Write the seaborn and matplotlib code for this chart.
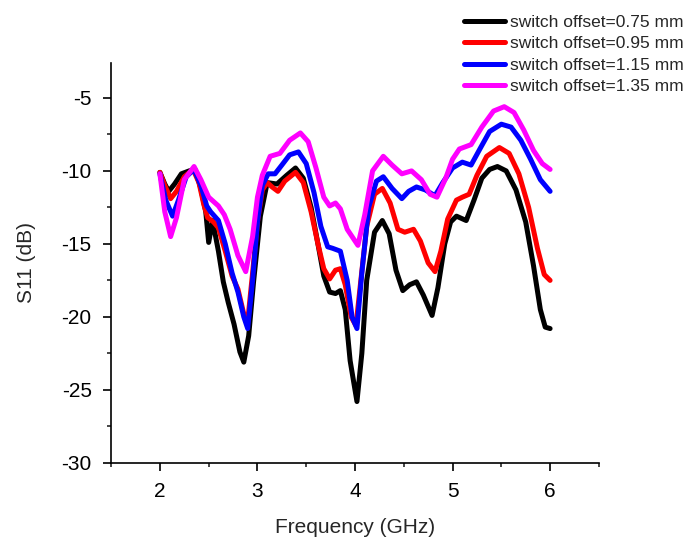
import pandas as pd
import seaborn as sns
import matplotlib.pyplot as plt
from matplotlib.ticker import MultipleLocator

# values (frequency in GHz, S11 in dB)
freq_075 = [2.00, 2.05, 2.09, 2.15, 2.22, 2.30, 2.36, 2.42, 2.47, 2.50, 2.54, 2.60, 2.65, 2.70,
            2.76, 2.82, 2.86, 2.91, 2.96, 3.03, 3.10, 3.20, 3.30, 3.39, 3.47, 3.55, 3.62, 3.68,
            3.74, 3.80, 3.85, 3.90, 3.95, 4.02, 4.07, 4.12, 4.20, 4.28, 4.35, 4.42, 4.49, 4.56,
            4.63, 4.70, 4.79, 4.85, 4.92, 4.98, 5.04, 5.14, 5.22, 5.30, 5.38, 5.46, 5.55, 5.65,
            5.75, 5.83, 5.90, 5.95, 6.00]
s11_075 = [-10.1, -10.9, -11.4, -10.9, -10.2, -10.0, -9.9, -11.2, -12.8, -14.9, -13.4, -15.5, -17.6, -19.0,
           -20.5, -22.4, -23.1, -21.3, -17.6, -13.1, -10.8, -10.9, -10.3, -9.8, -10.5, -12.5, -15.0, -17.2,
           -18.3, -18.4, -18.2, -19.5, -23.0, -25.8, -22.5, -17.5, -14.2, -13.4, -14.3, -16.8, -18.2, -17.8,
           -17.6, -18.5, -19.9, -18.0, -15.0, -13.5, -13.1, -13.4, -12.0, -10.5, -9.9, -9.7, -10.0, -11.3,
           -13.5, -16.5, -19.5, -20.7, -20.8]

freq_095 = [2.00, 2.05, 2.11, 2.17, 2.25, 2.34, 2.40, 2.45, 2.49, 2.55, 2.60, 2.67, 2.74, 2.80,
            2.86, 2.90, 2.95, 3.00, 3.05, 3.10, 3.15, 3.21, 3.28, 3.39, 3.47, 3.55, 3.62, 3.68,
            3.74, 3.80, 3.85, 3.90, 3.96, 4.01, 4.06, 4.12, 4.20, 4.28, 4.36, 4.44, 4.51, 4.60,
            4.67, 4.75, 4.82, 4.88, 4.95, 5.04, 5.10, 5.17, 5.25, 5.35, 5.48, 5.58, 5.68, 5.78,
            5.87, 5.94, 6.00]
s11_095 = [-10.1, -11.0, -11.9, -11.4, -10.4, -9.9, -10.8, -12.3, -13.2, -13.5, -13.9, -15.5, -17.2, -18.1,
           -19.8, -20.3, -17.0, -13.5, -11.3, -10.8, -11.1, -11.4, -10.7, -10.1, -10.8, -12.8, -15.0, -16.7,
           -17.4, -16.8, -16.7, -17.8, -20.0, -20.6, -17.5, -13.8, -11.6, -11.2, -12.2, -14.0, -14.2, -14.0,
           -14.8, -16.3, -16.9, -15.5, -13.3, -12.0, -11.8, -11.6, -10.3, -9.0, -8.4, -8.8, -10.2, -12.5,
           -15.3, -17.1, -17.5]

freq_115 = [2.00, 2.06, 2.13, 2.19, 2.27, 2.35, 2.42, 2.48, 2.52, 2.60, 2.67, 2.74, 2.80, 2.86,
            2.90, 2.95, 3.00, 3.05, 3.11, 3.18, 3.25, 3.33, 3.42, 3.50, 3.58, 3.65, 3.72, 3.77,
            3.85, 3.92, 3.97, 4.02, 4.07, 4.14, 4.22, 4.29, 4.38, 4.48, 4.55, 4.63, 4.72, 4.82,
            4.90, 5.00, 5.10, 5.19, 5.28, 5.38, 5.50, 5.60, 5.70, 5.80, 5.90, 6.00]
s11_115 = [-10.2, -12.0, -13.1, -12.0, -10.4, -9.9, -11.0, -12.4, -12.8, -13.4, -15.0, -17.0, -18.3, -20.0,
           -20.8, -17.5, -13.5, -11.0, -10.2, -10.2, -9.6, -8.9, -8.7, -9.5, -11.5, -13.8, -15.2, -15.3,
           -15.5, -17.5, -20.0, -20.8, -17.0, -12.5, -10.7, -10.4, -11.2, -11.9, -11.4, -11.1, -11.3, -11.7,
           -10.8, -9.8, -9.4, -9.6, -8.5, -7.3, -6.8, -7.0, -7.9, -9.2, -10.6, -11.4]

freq_135 = [2.00, 2.05, 2.11, 2.17, 2.25, 2.35, 2.42, 2.50, 2.60, 2.66, 2.72, 2.80, 2.88, 2.95,
            3.00, 3.05, 3.13, 3.23, 3.33, 3.44, 3.52, 3.60, 3.68, 3.74, 3.80, 3.85, 3.92, 4.03,
            4.10, 4.18, 4.29, 4.38, 4.48, 4.58, 4.68, 4.77, 4.84, 4.93, 5.00, 5.07, 5.19, 5.30,
            5.42, 5.53, 5.63, 5.73, 5.83, 5.92, 6.00]
s11_135 = [-10.2, -12.8, -14.5, -13.2, -10.6, -9.7, -10.6, -11.8, -12.4, -13.0, -14.0, -15.8, -16.9, -14.5,
           -11.8, -10.3, -9.0, -8.8, -7.9, -7.4, -8.0, -9.8, -11.8, -12.4, -12.2, -12.6, -14.0, -15.1,
           -13.0, -10.0, -9.0, -9.6, -10.2, -10.0, -10.6, -11.6, -11.8, -10.5, -9.2, -8.5, -8.2, -7.0,
           -5.9, -5.6, -6.0, -7.2, -8.6, -9.5, -9.9]

labels = ["switch offset=0.75 mm", "switch offset=0.95 mm",
          "switch offset=1.15 mm", "switch offset=1.35 mm"]
colors = ["black", "red", "blue", "magenta"]

frames = []
for f, s, lab in zip([freq_075, freq_095, freq_115, freq_135],
                     [s11_075, s11_095, s11_115, s11_135], labels):
    frames.append(pd.DataFrame({"freq": f, "s11": s, "series": lab}))
df = pd.concat(frames, ignore_index=True)

sns.set_theme(style="ticks")
plt.rcParams["font.family"] = ["Liberation Sans", "DejaVu Sans"]
plt.rcParams["axes.unicode_minus"] = False
plt.rcParams["lines.solid_joinstyle"] = "round"
plt.rcParams["lines.solid_capstyle"] = "round"

fig = plt.figure(figsize=(6.86, 5.42), dpi=100)
ax = fig.add_axes([0.162, 0.146, 0.711, 0.738])

sns.lineplot(data=df, x="freq", y="s11", hue="series", palette=colors,
             linewidth=3.6, sort=False, ax=ax, legend=True)

ax.set_xlim(1.5, 6.5)
ax.set_ylim(-30, -2.6)
ax.xaxis.set_major_locator(MultipleLocator(1))
ax.xaxis.set_minor_locator(MultipleLocator(0.5))
ax.yaxis.set_major_locator(MultipleLocator(5))
ax.yaxis.set_minor_locator(MultipleLocator(2.5))
ax.tick_params(which="major", length=6, width=1.2, labelsize=15, colors="black")
ax.tick_params(which="minor", length=3, width=1.2)
ax.tick_params(axis="x", pad=8)
ax.tick_params(axis="y", pad=8)
sns.despine(ax=ax)
for sp in ["left", "bottom"]:
    ax.spines[sp].set_linewidth(1.2)
    ax.spines[sp].set_color("black")

ax.set_xlabel("Frequency (GHz)", fontsize=15, labelpad=12)
ax.set_ylabel("S11 (dB)", fontsize=15, labelpad=18)

# legend up in the top right corner of the figure
handles, labs = ax.get_legend_handles_labels()
ax.get_legend().remove()
leg = fig.legend(handles, labs, loc="upper right", bbox_to_anchor=(1.015, 0.995),
                 frameon=False, fontsize=12.5, handlelength=2.4, handletextpad=0.3,
                 labelspacing=0.36, borderaxespad=0.3)
for line in leg.get_lines():
    line.set_linewidth(3.6)

plt.savefig("out.png", dpi=100)
